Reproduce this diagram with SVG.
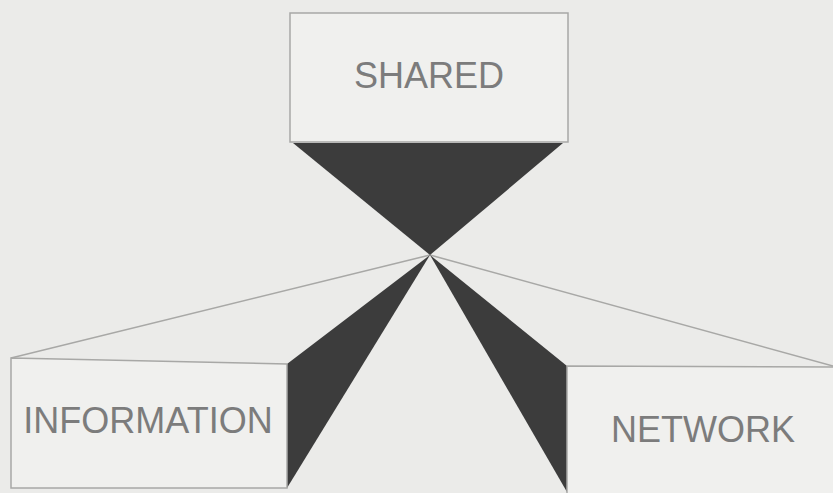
<svg xmlns="http://www.w3.org/2000/svg" width="833" height="493" viewBox="0 0 833 493">
<style>
.box{fill:#f0f0ee;stroke:#a8a8a6;stroke-width:1.5}
.wedge{fill:#3c3c3c}
.ln{stroke:#a8a8a6;stroke-width:1.5;fill:none}
.lbl{font-family:"Liberation Sans",Arial,sans-serif;font-size:36px;fill:#7c7c7c;text-anchor:middle}
</style>
<rect width="833" height="493" fill="#ebebe9"/>
<g id="connectors">
<line class="ln" x1="430" y1="255" x2="11" y2="358"/>
<line class="ln" x1="430" y1="255" x2="833" y2="366"/>
<polygon class="wedge" points="293,143 563,143 430,255"/>
<polygon class="wedge" points="430,255 287,364 287,488"/>
<polygon class="wedge" points="430,255 567,366 567,492"/>
</g>
<g id="shared">
<rect class="box" x="290" y="13" width="278" height="129"/>
<text class="lbl" x="429" y="88">SHARED</text>
</g>
<g id="information">
<polygon class="box" points="11,358 287,364 287,488 11,488"/>
<text class="lbl" x="148" y="433">INFORMATION</text>
</g>
<g id="network">
<polygon class="box" points="567,366 834,367 834,494 567,494"/>
<text class="lbl" x="703" y="442">NETWORK</text>
</g>
</svg>
